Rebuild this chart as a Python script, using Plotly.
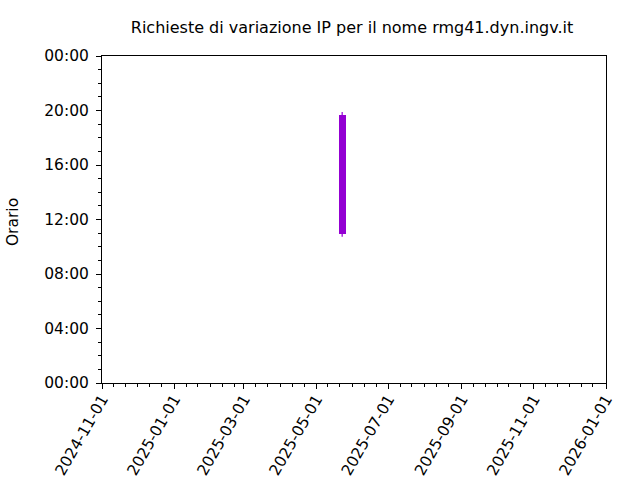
import plotly.graph_objects as go
import pandas as pd

# Data
dates = ["2025-05-23"]
box_low = [10.94]       # hours
box_high = [19.67]
whisker_low = [10.74]
whisker_high = [19.89]
bar_width_days = 5.9

x_tick_vals = ["2024-11-01", "2025-01-01", "2025-03-01", "2025-05-01",
               "2025-07-01", "2025-09-01", "2025-11-01", "2026-01-01"]
y_tick_vals = [0, 4, 8, 12, 16, 20, 24]
y_tick_text = ["00:00", "04:00", "08:00", "12:00", "16:00", "20:00", "00:00"]

title_text = "Richieste di variazione IP per il nome rmg41.dyn.ingv.it"
y_label = "Orario"
color = "#9400D3"

# minor x ticks on days 1, 11, 21 of each month
minor_x = []
for m in pd.date_range("2024-11-01", "2026-01-01", freq="MS"):
    for d in (1, 11, 21):
        t = m + pd.Timedelta(days=d - 1)
        if t <= pd.Timestamp("2026-01-01"):
            minor_x.append(t.strftime("%Y-%m-%d"))

W, H = 640, 480
L, R, T, B = 102, 34, 56, 97

fig = go.Figure()
for i in range(len(dates)):
    fig.add_trace(go.Scatter(
        x=[dates[i], dates[i]], y=[whisker_low[i], whisker_high[i]],
        mode="lines", line=dict(color=color, width=1.2),
        showlegend=False, hoverinfo="skip"))
fig.add_trace(go.Bar(
    x=dates, y=[h - l for h, l in zip(box_high, box_low)], base=box_low,
    width=[bar_width_days * 86400000] * len(dates),
    marker=dict(color=color, line=dict(width=0)), showlegend=False))

font = dict(family="DejaVu Sans", size=15.5, color="black")
fig.update_layout(
    width=W, height=H,
    margin=dict(l=L, r=R, t=T, b=B),
    paper_bgcolor="white", plot_bgcolor="white",
    font=font,
    title=dict(text=title_text, x=352 / W, xanchor="center", xref="container",
               y=1 - 27 / H, yanchor="middle", yref="container",
               font=dict(family="DejaVu Sans", size=16, color="black")),
    bargap=0,
)
fig.update_xaxes(
    type="date", range=["2024-11-01", "2026-01-01"], automargin=False,
    tickvals=x_tick_vals, tickformat="%Y-%m-%d", tickangle=-60,
    ticks="outside", ticklen=5, tickwidth=1, tickcolor="black",
    showline=True, linecolor="black", linewidth=1, mirror=True,
    showgrid=False, zeroline=False, ticklabelstandoff=-5,
    minor=dict(tickvals=minor_x, ticks="outside", ticklen=3, tickcolor="black", showgrid=False),
    tickfont=font,
)
fig.update_yaxes(
    range=[0, 24], tickvals=y_tick_vals, ticktext=y_tick_text, automargin=False,
    ticks="outside", ticklen=5, tickwidth=1, tickcolor="black",
    showline=True, linecolor="black", linewidth=1, mirror=True,
    showgrid=False, zeroline=False, ticklabelstandoff=4,
    minor=dict(dtick=1, ticks="outside", ticklen=3, tickcolor="black", showgrid=False),
    tickfont=font,
)
fig.add_annotation(text=y_label, textangle=-90, x=(13 - L) / (W - L - R), y=0.492,
                   xref="paper", yref="paper", showarrow=False, font=font,
                   xanchor="center", yanchor="middle")
fig.write_html("out.html", config={"displayModeBar": False},
               post_script="document.body.style.margin='0';document.body.style.padding='0';")
